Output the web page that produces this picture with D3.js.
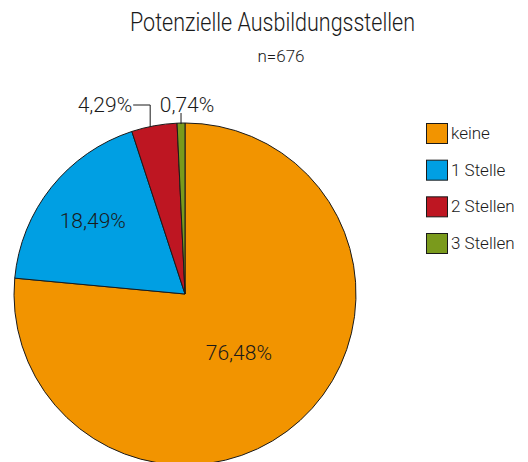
<!DOCTYPE html>
<html><head><meta charset="utf-8">
<script src="https://cdn.jsdelivr.net/npm/d3@7"></script>
<style>body{margin:0;background:#fff}svg{display:block}text{font-family:Roboto,sans-serif;font-weight:300;fill:#1a1a1a}</style>
</head><body><svg id="c" width="528" height="462"></svg>
<script>
const categories = ["keine","1 Stelle","2 Stellen","3 Stellen"];
const counts = [517,125,29,5];
const labels = ["76,48%","18,49%","4,29%","0,74%"];
const colors = ["#F29400","#009FE3","#BE1622","#7A9A1C"];
const title = "Potenzielle Ausbildungsstellen";
const subtitle = "n=676";

const svg = d3.select("#c");
const cx = 185, cy = 294, R = 171;
svg.append("text").attr("x",130).attr("y",31).attr("font-size",26)
  .attr("textLength",285).attr("lengthAdjust","spacingAndGlyphs").text(title);
svg.append("text").attr("x",281).attr("y",62).attr("text-anchor","middle").attr("font-size",17).text(subtitle);

const pie = d3.pie().sort(null).value(d=>d)(counts);
const arc = d3.arc().innerRadius(0).outerRadius(R);
const g = svg.append("g").attr("transform",`translate(${cx},${cy})`);
g.selectAll("path").data(pie).join("path").attr("d",arc)
  .attr("fill",(d,i)=>colors[i]).attr("stroke","#1a1a1a").attr("stroke-width",1);

const inner = [{i:0,r:80},{i:1,r:118}];
inner.forEach(o=>{
  const d = pie[o.i]; const a=(d.startAngle+d.endAngle)/2;
  g.append("text").attr("x",Math.sin(a)*o.r).attr("y",-Math.cos(a)*o.r)
   .attr("text-anchor","middle").attr("dy","0.35em").attr("font-size",21).text(labels[o.i]);
});
{
  const d = pie[2]; const a=(d.startAngle+d.endAngle)/2;
  const px = Math.sin(a)*R - 4, py = -Math.cos(a)*R;
  const ly = -189;
  g.append("path").attr("d",`M${px},${py+1}V${ly}H${px-17}`).attr("fill","none").attr("stroke","#1a1a1a").attr("stroke-width",1);
  g.append("text").attr("x",px-18).attr("y",ly).attr("dy","0.35em").attr("text-anchor","end").attr("font-size",21).text(labels[2]);
}
{
  const d = pie[3]; const a=(d.startAngle+d.endAngle)/2;
  const px = Math.sin(a)*R, py = -Math.cos(a)*R;
  g.append("path").attr("d",`M${px},${py+1}V${-181}`).attr("fill","none").attr("stroke","#1a1a1a").attr("stroke-width",1);
  g.append("text").attr("x",2).attr("y",-189).attr("dy","0.35em").attr("text-anchor","middle").attr("font-size",21).text(labels[3]);
}
const lg = svg.append("g").attr("transform","translate(426,123)");
const y = d3.scalePoint().domain(categories).range([0,110]);
categories.forEach((c,i)=>{
  lg.append("rect").attr("x",0.5).attr("y",y(c)+0.5).attr("width",21).attr("height",20)
    .attr("fill",colors[i]).attr("stroke","#1a1a1a").attr("stroke-width",1);
  lg.append("text").attr("x",25).attr("y",y(c)+10).attr("dy","0.35em").attr("font-size",17).text(c);
});
</script></body></html>
